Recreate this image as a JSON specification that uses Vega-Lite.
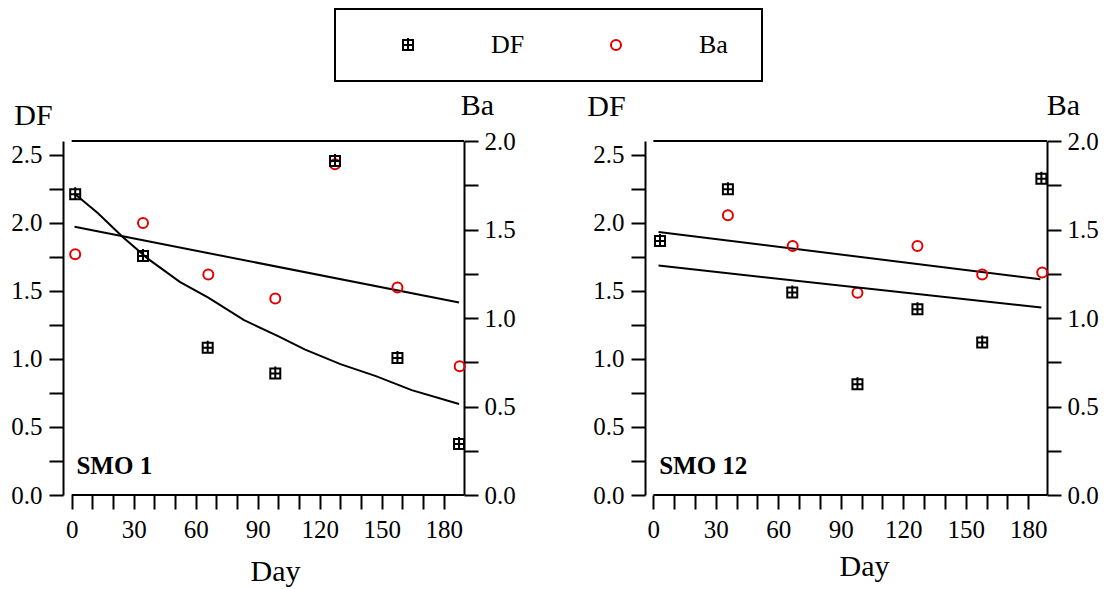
{
  "$schema": "https://vega.github.io/schema/vega-lite/v6.json",
  "padding": {"left": 10, "top": 8, "right": 2, "bottom": 2},
  "bounds": "flush",
  "spacing": 181,
  "config": {
    "view": {"stroke": null},
    "font": "Liberation Serif",
    "axis": {"domainColor": "black", "domainWidth": 2, "tickColor": "black", "tickWidth": 2, "tickSize": 14, "labelColor": "black", "labelFont": "Liberation Serif", "labelFontSize": 25, "labelOverlap": false, "titleFont": "Liberation Serif", "titleFontSize": 30, "titleFontWeight": "normal", "titleColor": "black", "grid": false},
    "legend": {"strokeWidth": 2}
  },
  "datasets": {
    "pts": [
      {"panel": "SMO 1", "series": "DF", "day": 1.7, "value": 2.208},
      {"panel": "SMO 1", "series": "DF", "day": 34.5, "value": 1.756},
      {"panel": "SMO 1", "series": "DF", "day": 65.8, "value": 1.081},
      {"panel": "SMO 1", "series": "DF", "day": 98.5, "value": 0.893},
      {"panel": "SMO 1", "series": "DF", "day": 127.4, "value": 2.453},
      {"panel": "SMO 1", "series": "DF", "day": 157.6, "value": 1.007},
      {"panel": "SMO 1", "series": "DF", "day": 187.4, "value": 0.374},
      {"panel": "SMO 1", "series": "Ba", "day": 1.7, "value": 1.36},
      {"panel": "SMO 1", "series": "Ba", "day": 34.5, "value": 1.537},
      {"panel": "SMO 1", "series": "Ba", "day": 66.1, "value": 1.246},
      {"panel": "SMO 1", "series": "Ba", "day": 98.5, "value": 1.11},
      {"panel": "SMO 1", "series": "Ba", "day": 127.4, "value": 1.868},
      {"panel": "SMO 1", "series": "Ba", "day": 157.6, "value": 1.172},
      {"panel": "SMO 1", "series": "Ba", "day": 187.7, "value": 0.728},
      {"panel": "SMO 12", "series": "DF", "day": 3.2, "value": 1.866},
      {"panel": "SMO 12", "series": "DF", "day": 35.8, "value": 2.245},
      {"panel": "SMO 12", "series": "DF", "day": 66.7, "value": 1.487},
      {"panel": "SMO 12", "series": "DF", "day": 98, "value": 0.814},
      {"panel": "SMO 12", "series": "DF", "day": 126.8, "value": 1.365},
      {"panel": "SMO 12", "series": "DF", "day": 157.9, "value": 1.12},
      {"panel": "SMO 12", "series": "DF", "day": 186.3, "value": 2.323},
      {"panel": "SMO 12", "series": "Ba", "day": 35.8, "value": 1.581},
      {"panel": "SMO 12", "series": "Ba", "day": 66.9, "value": 1.407},
      {"panel": "SMO 12", "series": "Ba", "day": 98, "value": 1.142},
      {"panel": "SMO 12", "series": "Ba", "day": 126.8, "value": 1.407},
      {"panel": "SMO 12", "series": "Ba", "day": 157.9, "value": 1.246},
      {"panel": "SMO 12", "series": "Ba", "day": 186.7, "value": 1.257}
    ],
    "fits": [
      {"panel": "SMO 1", "series": "Ba", "day": 1.4, "value": 1.515},
      {"panel": "SMO 1", "series": "Ba", "day": 187.4, "value": 1.088},
      {"panel": "SMO 1", "series": "DF", "day": 1.4, "value": 2.213},
      {"panel": "SMO 1", "series": "DF", "day": 12.6, "value": 2.071},
      {"panel": "SMO 1", "series": "DF", "day": 24.7, "value": 1.895},
      {"panel": "SMO 1", "series": "DF", "day": 36.8, "value": 1.736},
      {"panel": "SMO 1", "series": "DF", "day": 52.3, "value": 1.565},
      {"panel": "SMO 1", "series": "DF", "day": 66.1, "value": 1.45},
      {"panel": "SMO 1", "series": "DF", "day": 83.4, "value": 1.284},
      {"panel": "SMO 1", "series": "DF", "day": 100.6, "value": 1.162},
      {"panel": "SMO 1", "series": "DF", "day": 112.7, "value": 1.069},
      {"panel": "SMO 1", "series": "DF", "day": 130, "value": 0.961},
      {"panel": "SMO 1", "series": "DF", "day": 147.2, "value": 0.873},
      {"panel": "SMO 1", "series": "DF", "day": 164.5, "value": 0.77},
      {"panel": "SMO 1", "series": "DF", "day": 187.4, "value": 0.668},
      {"panel": "SMO 12", "series": "Ba", "day": 2.5, "value": 1.486},
      {"panel": "SMO 12", "series": "Ba", "day": 185.8, "value": 1.219},
      {"panel": "SMO 12", "series": "DF", "day": 2.5, "value": 1.685},
      {"panel": "SMO 12", "series": "DF", "day": 186.3, "value": 1.377}
    ]
  },
  "hconcat": [
    {
      "width": 401,
      "height": 354,
      "resolve": {"scale": {"y": "independent"}},
      "layer": [
        {
          "layer": [
            {
              "data": {"name": "fits"},
              "transform": [{"filter": "datum.panel === 'SMO 1' && datum.series === 'Ba'"}],
              "mark": {"type": "line", "color": "black", "strokeWidth": 2},
              "encoding": {
                "x": {"field": "day", "type": "quantitative", "scale": {"domain": [-4.2, 189.8], "nice": false, "zero": false}},
                "y": {"field": "value", "type": "quantitative", "scale": {"domain": [0, 2], "nice": false},
                  "axis": {"orient": "right", "values": [0, 0.25, 0.5, 0.75, 1, 1.25, 1.5, 1.75, 2], "tickCount": 100, "labelExpr": "datum.value % 0.5 === 0 ? format(datum.value, '.1f') : ''", "labelFont": "Liberation Serif", "labelOverlap": false, "encode": {"ticks": {"update": {"x2": {"signal": "datum.value % 0.5 === 0 ? 14 : 6"}}}}, "labelPadding": 6, "title": "Ba", "titleAngle": 0, "titleX": 13, "titleY": -27, "titleAlign": "center", "titleBaseline": "alphabetic"}}
              }
            },
            {
              "data": {"name": "pts"},
              "transform": [{"filter": "datum.panel === 'SMO 1' && datum.series === 'Ba'"}],
              "mark": {"type": "point", "filled": false, "strokeWidth": 2, "size": 100, "opacity": 1},
              "encoding": {
                "x": {"field": "day", "type": "quantitative", "scale": {"domain": [-4.2, 189.8], "nice": false, "zero": false}},
                "y": {"field": "value", "type": "quantitative", "scale": {"domain": [0, 2], "nice": false}},
                "color": {"field": "series", "type": "nominal", "scale": {"domain": ["DF", "Ba"], "range": ["black", "#e00000"]},
                  "legend": {"title": "\u00a0", "titleOrient": "right", "titlePadding": 11, "titleFontSize": 12, "orient": "none", "legendX": 272, "legendY": -132, "direction": "horizontal", "strokeColor": "black", "padding": 23, "symbolOffset": 37, "labelOffset": 70, "columnPadding": 41, "labelFont": "Liberation Serif", "labelFontSize": 26, "labelColor": "black", "symbolSize": 100, "symbolStrokeWidth": 2}},
                "shape": {"field": "series", "type": "nominal", "scale": {"domain": ["DF", "Ba"], "range": ["M-1,-1H1V1H-1ZM0,-1.4V1M-1,0H1", "circle"]},
                  "legend": {"title": "\u00a0", "titleOrient": "right", "titlePadding": 11, "titleFontSize": 12, "orient": "none", "legendX": 272, "legendY": -132, "direction": "horizontal", "strokeColor": "black", "padding": 23, "symbolOffset": 37, "labelOffset": 70, "columnPadding": 41, "labelFont": "Liberation Serif", "labelFontSize": 26, "labelColor": "black", "symbolSize": 100, "symbolStrokeWidth": 2}}
              }
            }
          ]
        },
        {
          "layer": [
            {
              "data": {"name": "fits"},
              "transform": [{"filter": "datum.panel === 'SMO 1' && datum.series === 'DF'"}],
              "mark": {"type": "line", "color": "black", "strokeWidth": 2},
              "encoding": {
                "x": {"field": "day", "type": "quantitative", "scale": {"domain": [-4.2, 189.8], "nice": false, "zero": false},
                  "axis": {"values": [0, 10, 20, 30, 40, 50, 60, 70, 80, 90, 100, 110, 120, 130, 140, 150, 160, 170, 180], "tickCount": 100, "labelExpr": "datum.value % 30 === 0 ? datum.label : ''", "labelFont": "Liberation Serif", "labelOverlap": false, "encode": {"ticks": {"update": {"y2": {"signal": "datum.value % 30 === 0 ? 14 : 6"}}}}, "labelPadding": 8, "domain": false, "title": "Day", "titleX": 212, "titleY": 85, "titleAlign": "center", "titleBaseline": "alphabetic"}},
                "y": {"field": "value", "type": "quantitative", "scale": {"domain": [0, 2.6], "nice": false},
                  "axis": {"orient": "left", "values": [0, 0.25, 0.5, 0.75, 1, 1.25, 1.5, 1.75, 2, 2.25, 2.5], "tickCount": 100, "labelExpr": "datum.value % 0.5 === 0 ? format(datum.value, '.1f') : ''", "labelFont": "Liberation Serif", "labelOverlap": false, "encode": {"ticks": {"update": {"x2": {"signal": "datum.value % 0.5 === 0 ? -14 : -6"}}}}, "labelPadding": 7, "title": "DF", "titleAngle": 0, "titleX": -30, "titleY": -17, "titleAlign": "center", "titleBaseline": "alphabetic"}}
              }
            },
            {
              "data": {"name": "pts"},
              "transform": [{"filter": "datum.panel === 'SMO 1' && datum.series === 'DF'"}],
              "mark": {"type": "point", "filled": false, "strokeWidth": 2, "size": 100, "opacity": 1},
              "encoding": {
                "x": {"field": "day", "type": "quantitative", "scale": {"domain": [-4.2, 189.8], "nice": false, "zero": false}},
                "y": {"field": "value", "type": "quantitative", "scale": {"domain": [0, 2.6], "nice": false}},
                "color": {"field": "series", "type": "nominal", "scale": {"domain": ["DF", "Ba"], "range": ["black", "#e00000"]},
                  "legend": {"title": "\u00a0", "titleOrient": "right", "titlePadding": 11, "titleFontSize": 12, "orient": "none", "legendX": 272, "legendY": -132, "direction": "horizontal", "strokeColor": "black", "padding": 23, "symbolOffset": 37, "labelOffset": 70, "columnPadding": 41, "labelFont": "Liberation Serif", "labelFontSize": 26, "labelColor": "black", "symbolSize": 100, "symbolStrokeWidth": 2}},
                "shape": {"field": "series", "type": "nominal", "scale": {"domain": ["DF", "Ba"], "range": ["M-1,-1H1V1H-1ZM0,-1.4V1M-1,0H1", "circle"]},
                  "legend": {"title": "\u00a0", "titleOrient": "right", "titlePadding": 11, "titleFontSize": 12, "orient": "none", "legendX": 272, "legendY": -132, "direction": "horizontal", "strokeColor": "black", "padding": 23, "symbolOffset": 37, "labelOffset": 70, "columnPadding": 41, "labelFont": "Liberation Serif", "labelFontSize": 26, "labelColor": "black", "symbolSize": 100, "symbolStrokeWidth": 2}}
              }
            },
            {
              "data": {"values": [{"edge": "top"}]},
              "mark": {"type": "rule", "color": "black", "strokeWidth": 2},
              "encoding": {
                "x": {"datum": 0, "type": "quantitative", "scale": {"domain": [-4.2, 189.8], "nice": false, "zero": false}},
                "x2": {"datum": 189.8},
                "y": {"datum": 2.6, "type": "quantitative", "scale": {"domain": [0, 2.6], "nice": false}}
              }
            },
            {
              "data": {"values": [{"edge": "bottom"}]},
              "mark": {"type": "rule", "color": "black", "strokeWidth": 2},
              "encoding": {
                "x": {"datum": 0, "type": "quantitative", "scale": {"domain": [-4.2, 189.8], "nice": false, "zero": false}},
                "x2": {"datum": 189.8},
                "y": {"datum": 0, "type": "quantitative", "scale": {"domain": [0, 2.6], "nice": false}}
              }
            },
            {
              "data": {"values": [{"label": "SMO 1"}]},
              "mark": {"type": "text", "font": "Liberation Serif", "fontSize": 25, "fontWeight": "bold", "align": "left", "baseline": "alphabetic", "color": "black"},
              "encoding": {
                "x": {"datum": 2.3, "type": "quantitative", "scale": {"domain": [-4.2, 189.8], "nice": false, "zero": false}},
                "y": {"datum": 0.154, "type": "quantitative", "scale": {"domain": [0, 2.6], "nice": false}},
                "text": {"field": "label"}
              }
            }
          ]
        }
      ]
    },
    {
      "width": 402,
      "height": 354,
      "resolve": {"scale": {"y": "independent"}},
      "layer": [
        {
          "layer": [
            {
              "data": {"name": "fits"},
              "transform": [{"filter": "datum.panel === 'SMO 12' && datum.series === 'Ba'"}],
              "mark": {"type": "line", "color": "black", "strokeWidth": 2},
              "encoding": {
                "x": {"field": "day", "type": "quantitative", "scale": {"domain": [-4, 189], "nice": false, "zero": false}},
                "y": {"field": "value", "type": "quantitative", "scale": {"domain": [0, 2], "nice": false},
                  "axis": {"orient": "right", "values": [0, 0.25, 0.5, 0.75, 1, 1.25, 1.5, 1.75, 2], "tickCount": 100, "labelExpr": "datum.value % 0.5 === 0 ? format(datum.value, '.1f') : ''", "labelFont": "Liberation Serif", "labelOverlap": false, "encode": {"ticks": {"update": {"x2": {"signal": "datum.value % 0.5 === 0 ? 14 : 6"}}}}, "labelPadding": 6, "title": "Ba", "titleAngle": 0, "titleX": 16, "titleY": -27, "titleAlign": "center", "titleBaseline": "alphabetic"}}
              }
            },
            {
              "data": {"name": "pts"},
              "transform": [{"filter": "datum.panel === 'SMO 12' && datum.series === 'Ba'"}],
              "mark": {"type": "point", "filled": false, "strokeWidth": 2, "size": 100, "opacity": 1},
              "encoding": {
                "x": {"field": "day", "type": "quantitative", "scale": {"domain": [-4, 189], "nice": false, "zero": false}},
                "y": {"field": "value", "type": "quantitative", "scale": {"domain": [0, 2], "nice": false}},
                "color": {"field": "series", "type": "nominal", "scale": {"domain": ["DF", "Ba"], "range": ["black", "#e00000"]},
                  "legend": {"title": "\u00a0", "titleOrient": "right", "titlePadding": 11, "titleFontSize": 12, "orient": "none", "legendX": 272, "legendY": -132, "direction": "horizontal", "strokeColor": "black", "padding": 23, "symbolOffset": 37, "labelOffset": 70, "columnPadding": 41, "labelFont": "Liberation Serif", "labelFontSize": 26, "labelColor": "black", "symbolSize": 100, "symbolStrokeWidth": 2}},
                "shape": {"field": "series", "type": "nominal", "scale": {"domain": ["DF", "Ba"], "range": ["M-1,-1H1V1H-1ZM0,-1.4V1M-1,0H1", "circle"]},
                  "legend": {"title": "\u00a0", "titleOrient": "right", "titlePadding": 11, "titleFontSize": 12, "orient": "none", "legendX": 272, "legendY": -132, "direction": "horizontal", "strokeColor": "black", "padding": 23, "symbolOffset": 37, "labelOffset": 70, "columnPadding": 41, "labelFont": "Liberation Serif", "labelFontSize": 26, "labelColor": "black", "symbolSize": 100, "symbolStrokeWidth": 2}}
              }
            }
          ]
        },
        {
          "layer": [
            {
              "data": {"name": "fits"},
              "transform": [{"filter": "datum.panel === 'SMO 12' && datum.series === 'DF'"}],
              "mark": {"type": "line", "color": "black", "strokeWidth": 2},
              "encoding": {
                "x": {"field": "day", "type": "quantitative", "scale": {"domain": [-4, 189], "nice": false, "zero": false},
                  "axis": {"values": [0, 10, 20, 30, 40, 50, 60, 70, 80, 90, 100, 110, 120, 130, 140, 150, 160, 170, 180], "tickCount": 100, "labelExpr": "datum.value % 30 === 0 ? datum.label : ''", "labelFont": "Liberation Serif", "labelOverlap": false, "encode": {"ticks": {"update": {"y2": {"signal": "datum.value % 30 === 0 ? 14 : 6"}}}}, "labelPadding": 8, "domain": false, "title": "Day", "titleX": 219, "titleY": 80, "titleAlign": "center", "titleBaseline": "alphabetic"}},
                "y": {"field": "value", "type": "quantitative", "scale": {"domain": [0, 2.6], "nice": false},
                  "axis": {"orient": "left", "values": [0, 0.25, 0.5, 0.75, 1, 1.25, 1.5, 1.75, 2, 2.25, 2.5], "tickCount": 100, "labelExpr": "datum.value % 0.5 === 0 ? format(datum.value, '.1f') : ''", "labelFont": "Liberation Serif", "labelOverlap": false, "encode": {"ticks": {"update": {"x2": {"signal": "datum.value % 0.5 === 0 ? -14 : -6"}}}}, "labelPadding": 7, "title": "DF", "titleAngle": 0, "titleX": -39, "titleY": -26, "titleAlign": "center", "titleBaseline": "alphabetic"}}
              }
            },
            {
              "data": {"name": "pts"},
              "transform": [{"filter": "datum.panel === 'SMO 12' && datum.series === 'DF'"}],
              "mark": {"type": "point", "filled": false, "strokeWidth": 2, "size": 100, "opacity": 1},
              "encoding": {
                "x": {"field": "day", "type": "quantitative", "scale": {"domain": [-4, 189], "nice": false, "zero": false}},
                "y": {"field": "value", "type": "quantitative", "scale": {"domain": [0, 2.6], "nice": false}},
                "color": {"field": "series", "type": "nominal", "scale": {"domain": ["DF", "Ba"], "range": ["black", "#e00000"]},
                  "legend": {"title": "\u00a0", "titleOrient": "right", "titlePadding": 11, "titleFontSize": 12, "orient": "none", "legendX": 272, "legendY": -132, "direction": "horizontal", "strokeColor": "black", "padding": 23, "symbolOffset": 37, "labelOffset": 70, "columnPadding": 41, "labelFont": "Liberation Serif", "labelFontSize": 26, "labelColor": "black", "symbolSize": 100, "symbolStrokeWidth": 2}},
                "shape": {"field": "series", "type": "nominal", "scale": {"domain": ["DF", "Ba"], "range": ["M-1,-1H1V1H-1ZM0,-1.4V1M-1,0H1", "circle"]},
                  "legend": {"title": "\u00a0", "titleOrient": "right", "titlePadding": 11, "titleFontSize": 12, "orient": "none", "legendX": 272, "legendY": -132, "direction": "horizontal", "strokeColor": "black", "padding": 23, "symbolOffset": 37, "labelOffset": 70, "columnPadding": 41, "labelFont": "Liberation Serif", "labelFontSize": 26, "labelColor": "black", "symbolSize": 100, "symbolStrokeWidth": 2}}
              }
            },
            {
              "data": {"values": [{"edge": "top"}]},
              "mark": {"type": "rule", "color": "black", "strokeWidth": 2},
              "encoding": {
                "x": {"datum": 0, "type": "quantitative", "scale": {"domain": [-4, 189], "nice": false, "zero": false}},
                "x2": {"datum": 189},
                "y": {"datum": 2.6, "type": "quantitative", "scale": {"domain": [0, 2.6], "nice": false}}
              }
            },
            {
              "data": {"values": [{"edge": "bottom"}]},
              "mark": {"type": "rule", "color": "black", "strokeWidth": 2},
              "encoding": {
                "x": {"datum": 0, "type": "quantitative", "scale": {"domain": [-4, 189], "nice": false, "zero": false}},
                "x2": {"datum": 189},
                "y": {"datum": 0, "type": "quantitative", "scale": {"domain": [0, 2.6], "nice": false}}
              }
            },
            {
              "data": {"values": [{"label": "SMO 12"}]},
              "mark": {"type": "text", "font": "Liberation Serif", "fontSize": 25, "fontWeight": "bold", "align": "left", "baseline": "alphabetic", "color": "black"},
              "encoding": {
                "x": {"datum": 2.8, "type": "quantitative", "scale": {"domain": [-4, 189], "nice": false, "zero": false}},
                "y": {"datum": 0.154, "type": "quantitative", "scale": {"domain": [0, 2.6], "nice": false}},
                "text": {"field": "label"}
              }
            }
          ]
        }
      ]
    }
  ]
}
